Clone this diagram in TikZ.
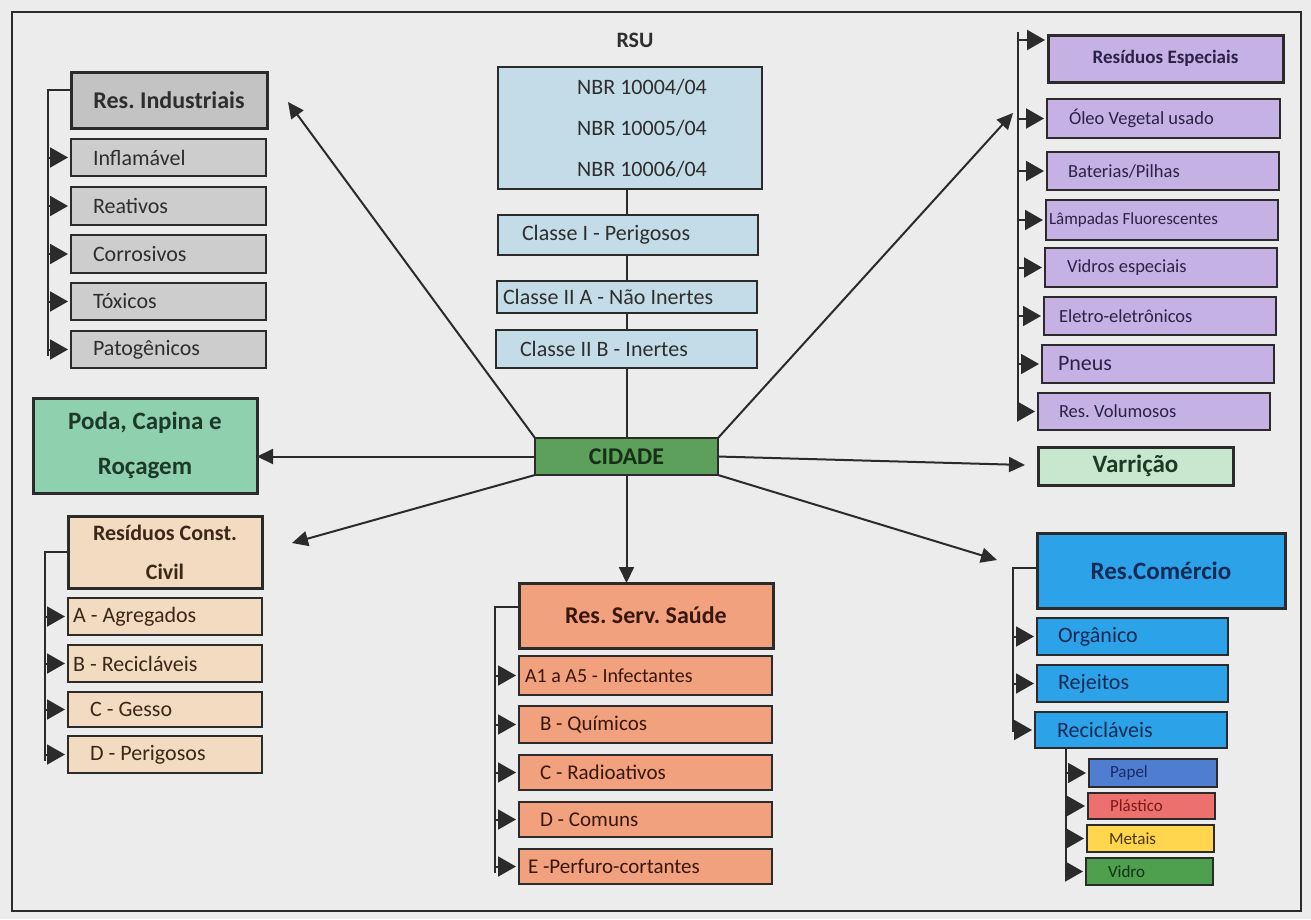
\documentclass[tikz,border=0pt]{standalone}
\usepackage{fontspec}
\setmainfont{Carlito}
\usetikzlibrary{arrows.meta,calc}
\definecolor{bgc}{HTML}{ECECEC}
\definecolor{lc}{HTML}{2B2B2B}
\definecolor{txg}{HTML}{2E2E2E}
\definecolor{grayH}{HTML}{C3C3C3}
\definecolor{grayC}{HTML}{CDCDCD}
\definecolor{bl}{HTML}{C4DCE8}
\definecolor{cidg}{HTML}{5CA05C}
\definecolor{cidt}{HTML}{153015}
\definecolor{purp}{HTML}{C5B1E3}
\definecolor{purt}{HTML}{2A2248}
\definecolor{varg}{HTML}{C7E7CF}
\definecolor{vart}{HTML}{1D3A25}
\definecolor{podag}{HTML}{8FD1AF}
\definecolor{podat}{HTML}{1C3A26}
\definecolor{beige}{HTML}{F2DBC0}
\definecolor{cct}{HTML}{3A2818}
\definecolor{salm}{HTML}{F2A17E}
\definecolor{salt}{HTML}{3A170C}
\definecolor{comb}{HTML}{2CA2E8}
\definecolor{comt}{HTML}{0E2A55}
\definecolor{papel}{HTML}{4F7ED0}
\definecolor{papt}{HTML}{1A2A66}
\definecolor{plast}{HTML}{EC706D}
\definecolor{plat}{HTML}{7A1A1A}
\definecolor{metais}{HTML}{FFD64D}
\definecolor{mett}{HTML}{4A3300}
\definecolor{vidro}{HTML}{4E9F4E}
\definecolor{vidt}{HTML}{0F3312}
\newcommand\myfs[2]{\fontsize{#1}{#2}\selectfont}
\frenchspacing
\tikzset{
  every node/.append style={execute at begin node={\spaceskip=0.23em\relax\xspaceskip=0.23em\relax}},
  bx/.style={draw=lc, line width=1.8pt, anchor=north west, inner ysep=0pt, outer sep=0pt},
  L/.code 2 args={\pgfmathsetmacro\mytw{#1-2*(#2)}\edef\myargs{minimum width=#1pt, text width=\mytw pt, inner xsep=#2pt, align=left}\expandafter\pgfkeysalso\expandafter{\myargs}},
  hd/.style={bx, line width=3pt, align=center},
  gc/.style={bx, fill=grayC, text=txg, font=\myfs{22}{26}},
  bc/.style={bx, fill=bl, text=txg, font=\myfs{22}{26}},
  pc/.style={bx, fill=purp, text=purt, font=\myfs{18.5}{22}},
  kc/.style={bx, fill=beige, text=cct, font=\myfs{22}{26}},
  sc/.style={bx, fill=salm, text=salt, font=\myfs{21}{26}},
  mc/.style={bx, fill=comb, text=comt, font=\myfs{22}{26}},
  rc/.style={bx, font=\myfs{17}{20}},
  conn/.style={draw=lc, line width=2pt, -{Triangle[length=16pt,width=15pt]}},
  brk/.style={draw=lc, line width=2pt},
  barrow/.style={draw=lc, line width=2pt, -{Triangle[length=18pt,width=20pt]}, shorten >=3pt},
}
\begin{document}
\begin{tikzpicture}[x=1pt,y=-1pt]
\useasboundingbox (0,0) rectangle (1311,919);
\fill[bgc] (0,0) rectangle (1311,919);
\draw[lc, line width=2.5pt] (12,12) rectangle (1301,911);

% Industriais
\node[hd, fill=grayH, text=txg, font=\bfseries\myfs{24}{28}, minimum width=196, minimum height=56] (ind) at (71,72) {Res. Industriais};
\node[gc, L={195}{22}, minimum height=37] (i1) at (71,139) {Inflamável};
\node[gc, L={195}{22}, minimum height=38] (i2) at (71,187) {Reativos};
\node[gc, L={195}{22}, minimum height=38] (i3) at (71,235) {Corrosivos};
\node[gc, L={195}{22}, minimum height=37] (i4) at (71,283) {Tóxicos};
\node[gc, L={195}{22}, minimum height=37] (i5) at (71,331) {Patogênicos};
\coordinate (bI) at (48,90);
\draw[brk] (ind.west |- bI) -- (bI) -- ($(bI |- i5.west)+(0,6)$);
\foreach \n in {i1,i2,i3,i4,i5} \draw[barrow] (bI |- \n.west) -- (\n.west);

% RSU
\node[font=\bfseries\myfs{22}{26}, text=txg] (rsu) at (635,40) {RSU};
\node[bx, fill=bl, text=txg, font=\myfs{22}{41}, align=center, minimum width=264, minimum height=122] (nbr) at (498,67) {\hspace*{24pt}NBR 10004/04\\\hspace*{24pt}NBR 10005/04\\\hspace*{24pt}NBR 10006/04};
\node[bc, L={260}{24}, minimum height=40] (c1) at (498,215) {Classe I - Perigosos};
\node[bc, L={260}{6}, minimum height=32] (c2) at (497,281) {Classe II A - Não Inertes};
\node[bc, L={261}{24}, minimum height=38] (c3) at (496,330) {Classe II B - Inertes};

% Cidade
\node[bx, line width=2.5pt, fill=cidg, text=cidt, font=\bfseries\myfs{24}{28}, minimum width=183, minimum height=37] (cid) at (535,438) {CIDADE};
\draw[brk] (nbr.south -| cid.north) -- (c1.north -| cid.north);
\draw[brk] (c1.south -| cid.north) -- (c2.north -| cid.north);
\draw[brk] (c2.south -| cid.north) -- (c3.north -| cid.north);
\draw[brk] (c3.south -| cid.north) -- (cid.north);

% Especiais
\node[hd, fill=purp, text=purt, font=\bfseries\myfs{19}{22}, minimum width=235, minimum height=47] (esp) at (1048,35) {Resíduos Especiais};
\node[pc, L={233}{22}, minimum height=39] (e1) at (1047,99) {Óleo Vegetal usado};
\node[pc, L={232}{21}, minimum height=38] (e2) at (1047,152) {Baterias/Pilhas};
\node[pc, L={232}{3}, minimum height=40, font=\myfs{17}{20}] (e3) at (1046,200) {Lâmpadas Fluorescentes};
\node[pc, L={232}{22}, minimum height=39] (e4) at (1045,248) {Vidros especiais};
\node[pc, L={232}{15}, minimum height=38] (e5) at (1044,297) {Eletro-eletrônicos};
\node[pc, L={232}{16}, minimum height=38, font=\myfs{22}{26}] (e6) at (1042,345) {Pneus};
\node[pc, L={232}{21}, minimum height=37] (e7) at (1038,393) {Res. Volumosos};
\coordinate (bE) at (1018,32);
\coordinate (bEh) at (1018,40);
\draw[brk] (bE) -- ($(bE |- e7.west)+(0,4)$);
\draw[barrow] (bEh) -- (bEh -| esp.west);
\foreach \n in {e1,e2,e3,e4,e5,e6,e7} \draw[barrow] (bE |- \n.west) -- (\n.west);

% Varricao
\node[hd, fill=varg, text=vart, font=\bfseries\myfs{25}{28}, minimum width=195, minimum height=38] (var) at (1038,447) {Varrição};

% Poda
\node[hd, fill=podag, text=podat, font=\bfseries\myfs{25}{45}, minimum width=224, minimum height=95] (poda) at (33,398) {Poda, Capina e\\Roçagem};

% Construcao civil
\node[hd, fill=beige, text=cct, font=\bfseries\myfs{22}{39}, minimum width=194, minimum height=72] (cc) at (68,516) {Resíduos Const.\\Civil};
\node[kc, L={194}{5}, minimum height=37] (k1) at (68,598) {A - Agregados};
\node[kc, L={194}{5}, minimum height=37] (k2) at (68,645) {B - Recicláveis};
\node[kc, L={194}{22}, minimum height=35] (k3) at (68,692) {C - Gesso};
\node[kc, L={194}{22}, minimum height=37] (k4) at (68,736) {D - Perigosos};
\coordinate (bC) at (45,552);
\draw[brk] (cc.west |- bC) -- (bC) -- ($(bC |- k4.west)+(0,6)$);
\foreach \n in {k1,k2,k3,k4} \draw[barrow] (bC |- \n.west) -- (\n.west);

% Saude
\node[hd, fill=salm, text=salt, font=\bfseries\myfs{24}{28}, minimum width=254, minimum height=65] (sau) at (519,583) {Res. Serv. Saúde};
\node[sc, L={253}{6}, minimum height=39, font=\myfs{20}{24}] (s1) at (519,656) {A1 a A5 - Infectantes};
\node[sc, L={253}{21}, minimum height=37] (s2) at (519,706) {B - Químicos};
\node[sc, L={253}{21}, minimum height=35] (s3) at (519,755) {C - Radioativos};
\node[sc, L={253}{21}, minimum height=35] (s4) at (519,802) {D - Comuns};
\node[sc, L={253}{9}, minimum height=35] (s5) at (519,849) {E -Perfuro-cortantes};
\coordinate (bS) at (495,607);
\draw[brk] (sau.west |- bS) -- (bS) -- ($(bS |- s5.west)+(0,6)$);
\foreach \n in {s1,s2,s3,s4,s5} \draw[barrow] (bS |- \n.west) -- (\n.west);

% Comercio
\node[hd, fill=comb, text=comt, font=\bfseries\myfs{25}{28}, minimum width=248, minimum height=75] (com) at (1037,533) {Res.Comércio};
\node[mc, L={191}{21}, minimum height=37] (m1) at (1037,618) {Orgânico};
\node[mc, L={191}{21}, minimum height=37] (m2) at (1037,665) {Rejeitos};
\node[mc, L={192}{22}, minimum height=36] (m3) at (1035,712) {Recicláveis};
\coordinate (bM) at (1013,568);
\draw[brk] (com.west |- bM) -- (bM) -- ($(bM |- m3.west)+(0,2)$);
\foreach \n in {m1,m2,m3} \draw[barrow] (bM |- \n.west) -- (\n.west);

\node[rc, fill=papel, text=papt, L={128}{21}, minimum height=28] (r1) at (1089,759) {Papel};
\node[rc, fill=plast, text=plat, L={127}{22}, minimum height=26] (r2) at (1088,793) {Plástico};
\node[rc, fill=metais, text=mett, L={127}{22}, minimum height=27] (r3) at (1087,825) {Metais};
\node[rc, fill=vidro, text=vidt, L={127}{22}, minimum height=27] (r4) at (1086,858) {Vidro};
\coordinate (bR) at (1066,0);
\draw[brk] (bR |- m3.south) -- ($(bR |- r4.west)+(0,4)$);
\foreach \n in {r1,r2,r3,r4} \draw[barrow] (bR |- \n.west) -- (\n.west);

% Connectors from CIDADE
\coordinate (tInd) at (288,102);
\coordinate (tEsp) at (1013,113);
\coordinate (tVar) at (1025,465);
\coordinate (tCC) at (292,543);
\coordinate (tCom) at (997,560);
\draw[conn] (cid.north west) -- (tInd);
\draw[conn] (cid.north east) -- (tEsp);
\draw[conn] (cid.west) -- (cid.west -| poda.east);
\draw[conn] (cid.east) -- (tVar);
\draw[conn] (cid.south west) -- (tCC);
\draw[conn] (cid.south) -- (cid.south |- sau.north);
\draw[conn] (cid.south east) -- (tCom);
\end{tikzpicture}
\end{document}
